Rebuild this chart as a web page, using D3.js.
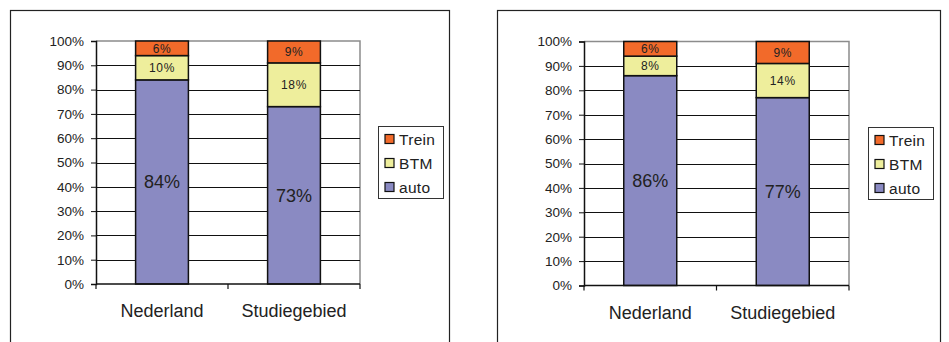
<!DOCTYPE html>
<html>
<head>
<meta charset="utf-8">
<script src="https://cdn.jsdelivr.net/npm/d3@7"></script>
<style>
  html, body { margin: 0; padding: 0; background: #fff; }
  svg { display: block; font-family: Arial, "Liberation Sans", sans-serif; }
</style>
</head>
<body>
<svg id="chart" width="949" height="342"></svg>
<script>
// Modal split per area (share of trips, %)
const categories = ["Nederland", "Studiegebied"];
const seriesNames = ["auto", "BTM", "Trein"];
const seriesColors = ["#8a8ac2", "#eeee9c", "#f26a2a"];

// Left panel
const leftAuto = [84, 73];
const leftBTM = [10, 18];
const leftTrein = [6, 9];

// Right panel
const rightAuto = [86, 77];
const rightBTM = [8, 14];
const rightTrein = [6, 9];

const yTicks = [0, 10, 20, 30, 40, 50, 60, 70, 80, 90, 100];

const svg = d3.select("#chart");

function panel(frame, plot, legendPos, auto, btm, trein) {
  // outer frame
  svg.append("rect")
    .attr("x", frame.x + 0.5).attr("y", frame.y + 0.5)
    .attr("width", frame.w).attr("height", frame.h)
    .attr("fill", "#fff").attr("stroke", "#222").attr("stroke-width", 1.2);

  const rows = categories.map((c, i) => ({ cat: c, auto: auto[i], BTM: btm[i], Trein: trein[i] }));
  const stacked = d3.stack().keys(seriesNames)(rows);

  const x = d3.scaleBand().domain(categories).range([plot.x0, plot.x1]).paddingInner(0).paddingOuter(0);
  const y = d3.scaleLinear().domain([0, 100]).range([plot.y0, plot.y1]);
  const barW = x.bandwidth() * 0.4;

  const g = svg.append("g");

  // plot border (top and right in grey)
  g.append("path")
    .attr("d", `M${plot.x0},${y(100)}H${plot.x1}V${y(0)}`)
    .attr("fill", "none").attr("stroke", "#8c8c8c").attr("stroke-width", 1.5);

  // gridlines
  g.selectAll("line.grid").data(yTicks.filter(t => t > 0 && t < 100)).enter()
    .append("line")
    .attr("x1", plot.x0).attr("x2", plot.x1)
    .attr("y1", d => Math.round(y(d)) + 0.5).attr("y2", d => Math.round(y(d)) + 0.5)
    .attr("stroke", "#111").attr("stroke-width", 1);

  // bars
  stacked.forEach((layer, si) => {
    g.selectAll(null).data(layer).enter().append("rect")
      .attr("x", d => x(d.data.cat) + (x.bandwidth() - barW) / 2)
      .attr("y", d => y(d[1]))
      .attr("width", barW)
      .attr("height", d => y(d[0]) - y(d[1]))
      .attr("fill", seriesColors[si])
      .attr("stroke", "#111").attr("stroke-width", 1.5);
  });

  // value labels
  stacked.forEach((layer, si) => {
    g.selectAll(null).data(layer).enter().append("text")
      .attr("x", d => x(d.data.cat) + x.bandwidth() / 2)
      .attr("y", d => (y(d[0]) + y(d[1])) / 2)
      .attr("dy", "0.36em")
      .attr("text-anchor", "middle")
      .attr("font-size", si === 0 ? 18 : 12)
      .attr("letter-spacing", si === 0 ? 0 : 0.6)
      .attr("fill", "#222")
      .text(d => (d[1] - d[0]) + "%");
  });

  // y axis
  const yAxis = d3.axisLeft(y).tickValues(yTicks).tickSize(5).tickPadding(7)
    .tickFormat(d => d + "%");
  const ya = g.append("g").attr("transform", `translate(${plot.x0},0)`).call(yAxis);
  ya.select(".domain").attr("stroke", "#111").attr("stroke-width", 1.5);
  ya.selectAll(".tick line").attr("stroke", "#111");
  ya.selectAll(".tick text").attr("font-size", 13.5).attr("fill", "#222")
    .attr("font-family", "Arial, 'Liberation Sans', sans-serif");

  // x axis with ticks at category boundaries
  const xa = g.append("g").attr("transform", `translate(0,${y(0)})`);
  xa.append("line").attr("x1", plot.x0).attr("x2", plot.x1)
    .attr("stroke", "#111").attr("stroke-width", 1.5);
  const bounds = categories.map(c => x(c)).concat([plot.x1]);
  xa.selectAll("line.tk").data(bounds).enter().append("line")
    .attr("x1", d => d).attr("x2", d => d).attr("y1", 0).attr("y2", 5)
    .attr("stroke", "#111").attr("stroke-width", 1.2);
  xa.selectAll("text").data(categories).enter().append("text")
    .attr("x", d => x(d) + x.bandwidth() / 2)
    .attr("y", 33)
    .attr("text-anchor", "middle")
    .attr("font-size", 18).attr("fill", "#222")
    .text(d => d);

  // legend
  const lg = g.append("g").attr("transform", `translate(${legendPos.x},${legendPos.y})`);
  lg.append("rect").attr("x", 0.5).attr("y", 0.5).attr("width", 65).attr("height", 72)
    .attr("fill", "#fff").attr("stroke", "#333").attr("stroke-width", 1);
  const legendOrder = [2, 1, 0];
  legendOrder.forEach((si, i) => {
    const yy = 13 + i * 24;
    lg.append("rect").attr("x", 7).attr("y", yy - 4.5).attr("width", 9).attr("height", 9)
      .attr("fill", seriesColors[si]).attr("stroke", "#111").attr("stroke-width", 1.2);
    lg.append("text").attr("x", 21).attr("y", yy).attr("dy", "0.36em")
      .attr("font-size", 15.5).attr("letter-spacing", 0.3).attr("fill", "#222").text(seriesNames[si]);
  });
}

panel({ x: 10, y: 10, w: 439, h: 340 },
      { x0: 96, x1: 360, y0: 284, y1: 41 },
      { x: 378, y: 126 },
      leftAuto, leftBTM, leftTrein);

panel({ x: 497, y: 10, w: 443, h: 340 },
      { x0: 584, x1: 849, y0: 285.5, y1: 41.5 },
      { x: 868, y: 127 },
      rightAuto, rightBTM, rightTrein);
</script>
</body>
</html>
